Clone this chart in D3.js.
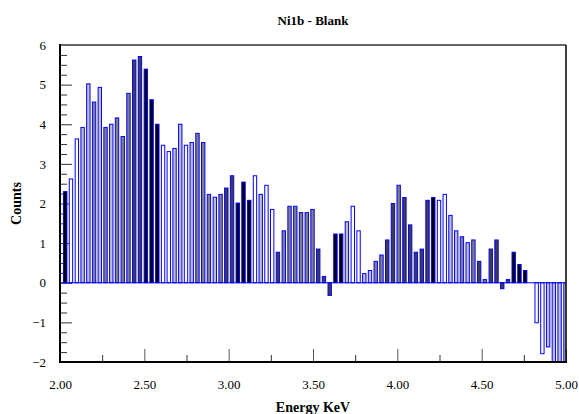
<!DOCTYPE html>
<html>
<head>
<meta charset="utf-8">
<script src="https://cdn.jsdelivr.net/npm/d3@7"></script>
<style>
  body { margin: 0; background: #fff; }
  text { font-family: "Liberation Serif", "DejaVu Serif", serif; }
</style>
</head>
<body>
<div id="chart"></div>
<script>

// channel energies (keV)
var energy = [
  2.031, 2.065, 2.100, 2.134, 2.168, 2.202, 2.236, 2.270, 2.304, 2.338,
  2.372, 2.406, 2.440, 2.474, 2.509, 2.543, 2.577, 2.611, 2.645, 2.679,
  2.713, 2.747, 2.781, 2.815, 2.849, 2.883, 2.918, 2.952, 2.986, 3.020,
  3.054, 3.088, 3.122, 3.156, 3.190, 3.224, 3.258, 3.292, 3.327, 3.361,
  3.395, 3.429, 3.463, 3.497, 3.531, 3.565, 3.599, 3.633, 3.667, 3.701,
  3.736, 3.770, 3.804, 3.838, 3.872, 3.906, 3.940, 3.974, 4.008, 4.042,
  4.076, 4.110, 4.145, 4.179, 4.213, 4.247, 4.281, 4.315, 4.349, 4.383,
  4.417, 4.451, 4.485, 4.519, 4.554, 4.588, 4.622, 4.656, 4.690, 4.724,
  4.758, 4.792, 4.826, 4.860, 4.894, 4.928, 4.962, 4.997
];

// net counts (sample - blank)
var counts = [
  2.30, 2.62, 3.63, 3.92, 5.02, 4.56, 4.93, 3.92, 4.00, 4.16,
  3.69, 4.78, 5.62, 5.71, 5.39, 4.62, 4.00, 3.47, 3.31, 3.39,
  4.00, 3.47, 3.54, 3.77, 3.54, 2.23, 2.16, 2.23, 2.39, 2.70,
  2.01, 2.54, 2.08, 2.70, 2.23, 2.46, 1.85, 0.77, 1.31, 1.93,
  1.93, 1.77, 1.77, 1.85, 0.85, 0.16, -0.32, 1.23, 1.23, 1.54,
  1.93, 1.31, 0.23, 0.31, 0.54, 0.70, 1.08, 2.00, 2.46, 2.15,
  1.46, 0.77, 0.85, 2.08, 2.15, 2.08, 2.23, 1.70, 1.31, 1.16,
  1.01, 1.08, 0.54, 0.08, 0.85, 1.08, -0.15, 0.08, 0.77, 0.46,
  0.31, 0, -1.01, -1.79, -1.62, -2.40, -2.40, -2.40
];

// fill level of each bar (0 = white ... 4 = black)
var level = [
  4, 0, 0, 1, 1, 2, 1, 2, 1, 2,
  2, 2, 3, 3, 4, 4, 4, 0, 0, 1,
  1, 0, 1, 2, 2, 2, 1, 2, 3, 3,
  4, 4, 4, 0, 1, 0, 0, 3, 2, 2,
  2, 2, 2, 2, 3, 3, 3, 4, 4, 1,
  0, 0, 1, 1, 2, 2, 3, 3, 2, 3,
  3, 3, 3, 3, 4, 0, 0, 1, 1, 2,
  1, 2, 3, 2, 3, 3, 3, 3, 4, 4,
  4, 0, 0, 0, 1, 1, 1, 1
];

var x_ticks = [2.0, 2.5, 3.0, 3.5, 4.0, 4.5, 5.0];
var y_ticks = [-2, -1, 0, 1, 2, 3, 4, 5, 6];

var TITLE = 'Ni1b - Blank';
var X_TITLE = 'Energy KeV';
var Y_TITLE = 'Counts';

var BAR_WIDTH = 0.02; // keV

function make_chart(selector, outer_width, outer_height) {
    var margin = { top: 45, left: 60, bottom: 52, right: 13 };
    var width = outer_width - margin.left - margin.right;
    var height = outer_height - margin.top - margin.bottom;

    var sx = d3.scaleLinear().domain([2, 5]).range([0, width]);
    var sy = d3.scaleLinear().domain([-2, 6]).range([height, 0]);

    var svg = d3.select(selector).append('svg')
        .attr('width', outer_width)
        .attr('height', outer_height);

    var g = svg.append('g')
        .attr('transform', 'translate(' + margin.left + ', ' + margin.top + ')');

    return { svg, g, margin, width, height, sx, sy };
}

var chart = make_chart('#chart', 579, 414);
var g = chart.g, sx = chart.sx, sy = chart.sy;

g.append('clipPath')
    .attr('id', 'clip')
    .append('rect')
    .attr('width', chart.width)
    .attr('height', chart.height);

// minor ticks
var minor_x = d3.range(2, 5.001, 0.25).filter(function(d) { return Math.abs(d * 2 - Math.round(d * 2)) > 1e-6; });
var minor_y = d3.range(-2, 6.001, 0.25).filter(function(d) { return Math.abs(d - Math.round(d)) > 1e-6; });

var ax_minor = d3.axisBottom(sx).tickValues(minor_x).tickSize(-7).tickFormat('');
var ay_minor = d3.axisLeft(sy).tickValues(minor_y).tickSize(-7).tickFormat('');
var ax = d3.axisBottom(sx).tickValues(x_ticks).tickSize(-13).tickPadding(18).tickFormat(d3.format('.2f'));
var ay = d3.axisLeft(sy).tickValues(y_ticks).tickSize(-12).tickPadding(14).tickFormat(d3.format('d'));

var gxm = g.append('g').attr('transform', 'translate(0, ' + chart.height + ')').call(ax_minor);
var gym = g.append('g').call(ay_minor);
var gx = g.append('g').attr('transform', 'translate(0, ' + chart.height + ')').call(ax);
var gy = g.append('g').call(ay);

[gxm, gym, gx, gy].forEach(function(a) {
    a.select('.domain').remove();
    a.selectAll('.tick line').attr('stroke', '#333').attr('stroke-width', 1);
});
[gx, gy].forEach(function(a) {
    a.selectAll('.tick text')
        .attr('fill', '#000')
        .style('font-size', '13px')
        .style('font-family', '"Liberation Serif", serif');
});
gx.selectAll('.tick line').attr('stroke', '#555');

// bars
var shade = d3.scaleLinear().domain([0, 4]).range(['#ffffff', '#000000']);

var rows = energy.map(function(e, i) { return { e: e, v: counts[i], l: level[i] }; });

g.append('g')
    .attr('clip-path', 'url(#clip)')
    .selectAll('.bar')
    .data(rows.filter(function(d) { return d.v !== 0; }))
    .enter()
    .append('rect')
    .attr('class', 'bar')
    .attr('x', function(d) { return sx(d.e - BAR_WIDTH / 2); })
    .attr('width', function(d) { return sx(d.e + BAR_WIDTH / 2) - sx(d.e - BAR_WIDTH / 2); })
    .attr('y', function(d) { return sy(Math.max(0, d.v)); })
    .attr('height', function(d) { return Math.abs(sy(d.v) - sy(0)); })
    .attr('fill', function(d) { return shade(d.l); })
    .attr('stroke', '#0000ff')
    .attr('stroke-width', 1);

// zero line
g.append('line')
    .attr('x1', 0).attr('x2', chart.width)
    .attr('y1', sy(0)).attr('y2', sy(0))
    .attr('stroke', '#0000ff')
    .attr('stroke-width', 1.2);

// frame
g.append('line').attr('x1', 0).attr('x2', chart.width).attr('y1', 0).attr('y2', 0)
    .attr('stroke', '#666').attr('stroke-width', 2);
g.append('line').attr('x1', chart.width).attr('x2', chart.width).attr('y1', 0).attr('y2', chart.height)
    .attr('stroke', '#000').attr('stroke-width', 1.5);
g.append('line').attr('x1', 0).attr('x2', 0).attr('y1', -1).attr('y2', chart.height + 1)
    .attr('stroke', '#000').attr('stroke-width', 2);
g.append('line').attr('x1', -1).attr('x2', chart.width + 1).attr('y1', chart.height).attr('y2', chart.height)
    .attr('stroke', '#000').attr('stroke-width', 2);

// titles
chart.svg.append('text')
    .attr('x', chart.margin.left + chart.width / 2)
    .attr('y', 25)
    .attr('text-anchor', 'middle')
    .style('font-size', '13px')
    .style('font-weight', 'bold')
    .text(TITLE);

chart.svg.append('text')
    .attr('x', chart.margin.left + chart.width / 2)
    .attr('y', 412)
    .attr('text-anchor', 'middle')
    .style('font-size', '14px')
    .style('font-weight', 'bold')
    .text(X_TITLE);

chart.svg.append('text')
    .attr('transform', 'translate(21, ' + (chart.margin.top + chart.height / 2) + ') rotate(-90)')
    .attr('text-anchor', 'middle')
    .style('font-size', '14px')
    .style('font-weight', 'bold')
    .text(Y_TITLE);

</script>
</body>
</html>
